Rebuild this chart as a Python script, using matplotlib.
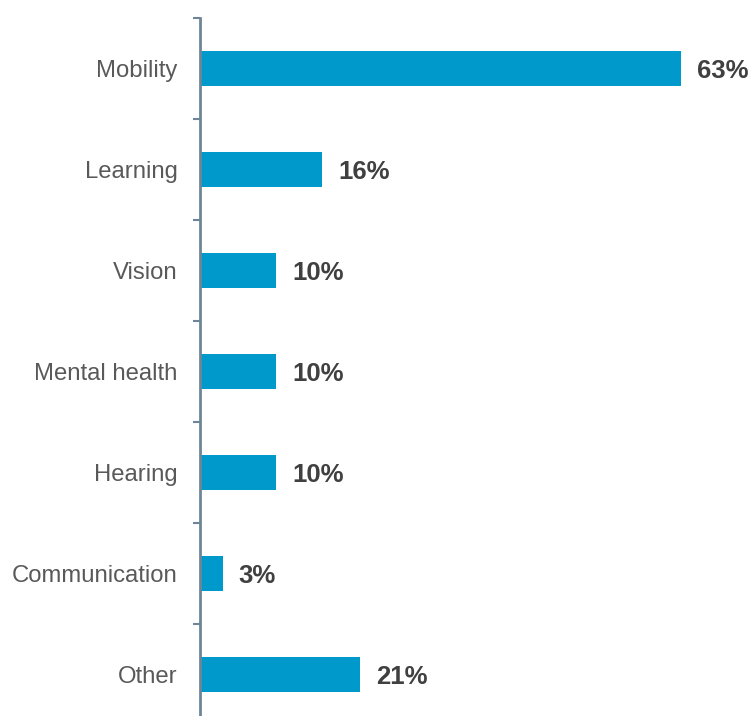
import matplotlib
matplotlib.use("Agg")
import matplotlib.pyplot as plt

categories = ["Mobility", "Learning", "Vision", "Mental health", "Hearing", "Communication", "Other"]
values = [63, 16, 10, 10, 10, 3, 21]
labels = ["63%", "16%", "10%", "10%", "10%", "3%", "21%"]

plt.rcParams['font.family'] = ['Liberation Sans', 'DejaVu Sans']

W, H = 753, 716
fig = plt.figure(figsize=(W/100, H/100), dpi=100)
left = 200 / W
top = 18
axh = 707
bottom = (H - (top + axh)) / H
ax = fig.add_axes([left, bottom, 534 / W, axh / H])

y = list(range(len(categories)))
ax.barh(y, values, height=0.355, color="#0099CC")
ax.set_ylim(len(categories) - 0.5, -0.5)
ax.set_xlim(0, 70)

for yi, v, lab in zip(y, values, labels):
    ax.annotate(lab, (v, yi), xytext=(11.5, -1.5), textcoords="offset points",
                ha="left", va="center", fontsize=18.5, fontweight="bold", color="#404040")

for s in ["top", "right", "bottom"]:
    ax.spines[s].set_visible(False)
ax.spines["left"].set_color("#6E8598")
ax.spines["left"].set_linewidth(2)
ax.set_xticks([])
ax.set_yticks([i - 0.5 for i in range(len(categories) + 1)], minor=False)
ax.set_yticklabels([])
ax.tick_params(axis="y", which="major", length=5, width=1.5, color="#6E8598")
ax.set_yticks(y, minor=True)
ax.set_yticklabels(categories, minor=True)
ax.tick_params(axis="y", which="minor", length=0, pad=16, labelsize=17.2, labelcolor="#595959")

fig.savefig("out.png", dpi=100)
